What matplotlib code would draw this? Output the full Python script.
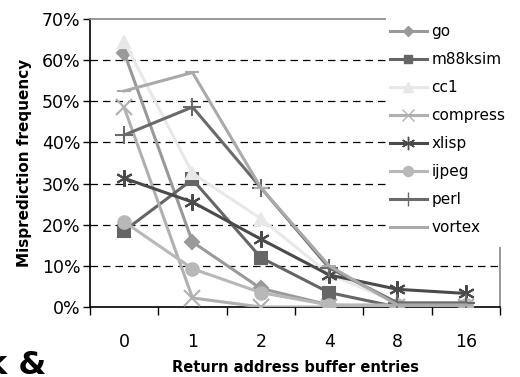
import matplotlib.pyplot as plt
from matplotlib.patches import Rectangle
from matplotlib.lines import Line2D

entries = ['0', '1', '2', '4', '8', '16']

go      = [61.8, 15.8, 4.5, 0.5, 0.0, 0.0]
m88ksim = [18.5, 31.0, 12.0, 3.5, 0.0, 0.0]
cc1     = [64.5, 32.5, 21.5, 8.0, 1.0, 1.0]
compress= [48.5, 2.2, 0.0, 0.0, 0.0, 0.0]
xlisp   = [31.3, 25.5, 16.5, 7.8, 4.3, 3.3]
ijpeg   = [20.7, 9.3, 3.5, 0.5, 0.5, 0.5]
perl    = [41.8, 48.6, 29.0, 9.5, 1.0, 1.0]
vortex  = [52.5, 57.0, 29.0, 10.0, 0.5, 0.5]

names = ['go', 'm88ksim', 'cc1', 'compress', 'xlisp', 'ijpeg', 'perl', 'vortex']
series = [go, m88ksim, cc1, compress, xlisp, ijpeg, perl, vortex]
colors = ['#999999', '#666666', '#e8e8e8', '#b0b0b0', '#4a4a4a', '#b8b8b8', '#6a6a6a', '#aaaaaa']
markers = ['D', 's', '^', 'x', (6, 2, 0), 'o', '+', '_']
msizes = [7, 8, 9, 11, 12, 9, 13, 10]

fig = plt.figure(figsize=(5.2, 3.77), dpi=100)
ax = fig.add_axes([90/520, 70/377, 410/520, 288/377])

x = list(range(len(entries)))
for s, n, c, m, ms in zip(series, names, colors, markers, msizes):
    ax.plot(x, s, color=c, lw=2.2, marker=m, ms=ms, mec=c, mfc=c, mew=1.5, label=n, zorder=3)

ax.set_xlim(-0.5, 5.5)
ax.set_ylim(0, 70)
ax.set_yticks(range(0, 71, 10))
ax.set_yticklabels([f'{v}%' for v in range(0, 71, 10)], fontsize=12.5)
for v in range(10, 70, 10):
    ax.axhline(v, color='black', lw=0.9, ls=(0, (6, 4)), zorder=1)

ax.set_xticks(x)
ax.set_xticklabels(entries, fontsize=12.5)
ax.set_xticks([i - 0.5 for i in range(7)], minor=True)
ax.tick_params(axis='x', which='major', length=0, pad=19)
ax.tick_params(axis='x', which='minor', length=6, width=1, direction='out')
ax.tick_params(axis='y', length=5, width=1, direction='out', pad=2)

ax.spines['left'].set_color('black')
ax.spines['bottom'].set_color('black')
ax.spines['top'].set_color('#888888')
ax.spines['right'].set_color('#888888')
for sp in ax.spines.values():
    sp.set_linewidth(1.2)

ax.set_ylabel('Misprediction frequency', fontsize=11, fontweight='bold', labelpad=7)
ax.set_xlabel('Return address buffer entries', fontsize=10.5, fontweight='bold', labelpad=6.5)

# white legend area covering the top right of the plot
fig.patches.append(Rectangle((386/520, (377-247)/377), 140/520, 230/377,
                             transform=fig.transFigure, facecolor='white',
                             edgecolor='none', zorder=2))
handles = [Line2D([0], [0], color=c, lw=2.2, marker=m, ms=ms*0.8, mec=c, mfc=c)
           for c, m, ms in zip(colors, markers, msizes)]
leg = fig.legend(handles, names, loc='upper left', bbox_to_anchor=(390/520, 1 - 24/377),
                 frameon=False, fontsize=11, handlelength=2.4, handletextpad=0.3,
                 labelspacing=0.85, borderaxespad=0, borderpad=0)
leg.set_zorder(3)

fig.text(-0.027, 3/377, 'k &', fontsize=23, fontweight='bold', va='baseline', ha='left')

plt.savefig('out.png', dpi=100)
